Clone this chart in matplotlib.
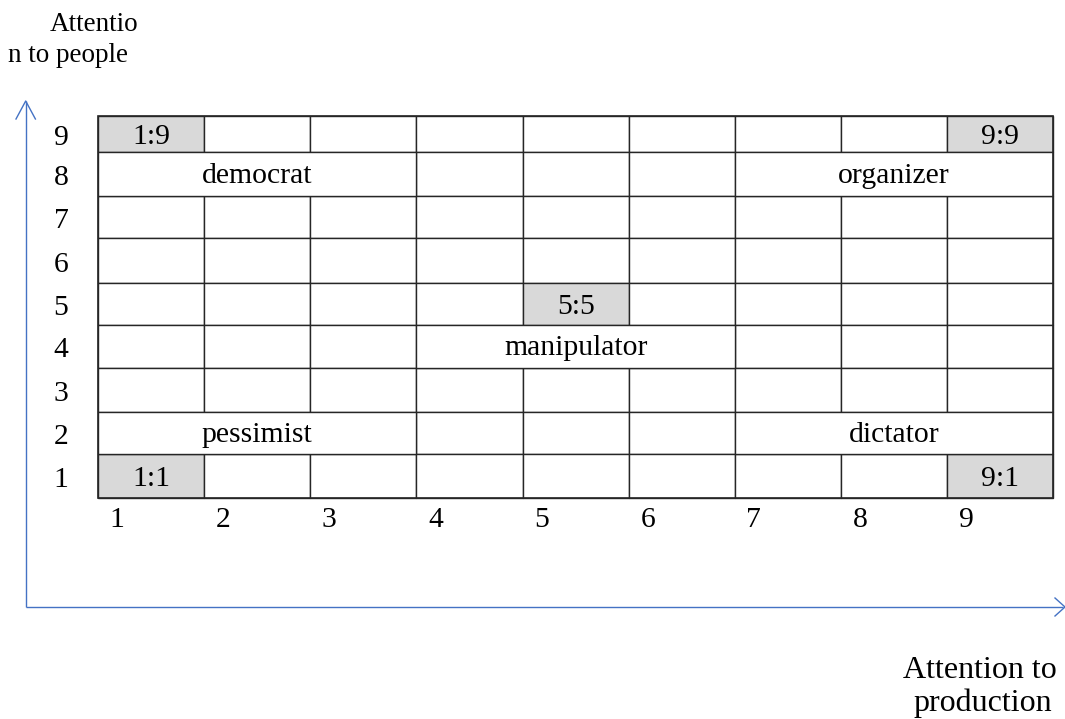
import matplotlib
matplotlib.use("Agg")
import matplotlib.pyplot as plt
from matplotlib.patches import Rectangle

# ---------------- data ----------------
col_labels = ["1", "2", "3", "4", "5", "6", "7", "8", "9"]
row_labels = ["9", "8", "7", "6", "5", "4", "3", "2", "1"]   # top to bottom
# merged cells: (row value, first column, last column, label)
merged_rows = [8, 8, 4, 2, 2]
merged_first = [1, 7, 4, 1, 7]
merged_last = [3, 9, 6, 3, 9]
merged_text = ["democrat", "organizer", "manipulator", "pessimist", "dictator"]
# highlighted cells: (column, row)
key_cols = [1, 9, 5, 1, 9]
key_rows = [9, 9, 5, 1, 1]
y_title = ["Attentio", "n to people"]
x_title = ["Attention to", "production"]

# ---------------- layout (pixels) ----------------
W, H = 1065, 719
grid_left, col_w = 98.0, 106.15
row_edges = [116.0, 152.3, 196.0, 238.3, 282.7, 325.0, 367.7, 411.7, 454.0, 497.7]
gray = "#D9D9D9"
edge = "#262626"
blue = "#4472C4"
FONT = "Liberation Serif"
FS = 21.3

fig = plt.figure(figsize=(W / 100, H / 100), dpi=100)
ax = fig.add_axes([0, 0, 1, 1])
ax.set_xlim(0, W)
ax.set_ylim(H, 0)
ax.axis("off")

def col_x(c):  # left edge of column c (1-based)
    return grid_left + (c - 1) * col_w

def row_y(r):  # top/bottom edges of row value r
    i = row_labels.index(str(r))
    return row_edges[i], row_edges[i + 1]

covered = set()
for r, c0, c1 in zip(merged_rows, merged_first, merged_last):
    for c in range(c0, c1 + 1):
        covered.add((c, r))

keys = set(zip(key_cols, key_rows))

# single cells
for r_lab in row_labels:
    r = int(r_lab)
    y0, y1 = row_y(r)
    for c in range(1, 10):
        if (c, r) in covered:
            continue
        fc = gray if (c, r) in keys else "white"
        ax.add_patch(Rectangle((col_x(c), y0), col_w, y1 - y0, facecolor=fc,
                               edgecolor=edge, linewidth=1.0, zorder=1))
        if (c, r) in keys:
            ax.text(col_x(c) + col_w / 2, (y0 + y1) / 2, f"{c}:{r}",
                    ha="center", va="center_baseline", fontsize=FS,
                    family=FONT, color="black", zorder=3)

# merged cells
for r, c0, c1, t in zip(merged_rows, merged_first, merged_last, merged_text):
    y0, y1 = row_y(r)
    x0 = col_x(c0)
    w = col_w * (c1 - c0 + 1)
    ax.add_patch(Rectangle((x0, y0), w, y1 - y0, facecolor="white",
                           edgecolor=edge, linewidth=1.0, zorder=1))
    ax.text(x0 + w / 2, (y0 + y1) / 2 - 1, t, ha="center", va="center_baseline",
            fontsize=FS, family=FONT, color="black", zorder=3)

# outer border
ax.add_patch(Rectangle((grid_left, row_edges[0]), 9 * col_w,
                       row_edges[-1] - row_edges[0], fill=False,
                       edgecolor=edge, linewidth=1.2, zorder=2))

# row labels
for i, lab in enumerate(row_labels):
    yc = (row_edges[i] + row_edges[i + 1]) / 2
    ax.text(61, yc + 1, lab, ha="center", va="center_baseline", fontsize=FS,
            family=FONT, color="black")

# column labels
for i, lab in enumerate(col_labels):
    ax.text(col_x(i + 1) + 19, 517, lab, ha="center", va="center_baseline",
            fontsize=FS, family=FONT, color="black")

# axes arrows
ax.plot([25.7, 25.7], [607, 101], color=blue, lw=1.0, solid_capstyle="butt")
ax.plot([25.7, 1063], [607, 607], color=blue, lw=1.0, solid_capstyle="butt")
ax.plot([16, 25.7, 35.4], [119, 101, 119], color=blue, lw=1.0)
ax.plot([1055, 1065, 1055], [598, 607, 616], color=blue, lw=1.0)

# titles
ax.text(50, 31, y_title[0], ha="left", va="baseline", fontsize=19.5,
        family=FONT, color="black")
ax.text(8, 62, y_title[1], ha="left", va="baseline", fontsize=19.5,
        family=FONT, color="black")
ax.text(980, 678, x_title[0], ha="center", va="baseline", fontsize=23,
        family=FONT, color="black")
ax.text(983, 711, x_title[1], ha="center", va="baseline", fontsize=23,
        family=FONT, color="black")

fig.savefig("out.png", dpi=100)
